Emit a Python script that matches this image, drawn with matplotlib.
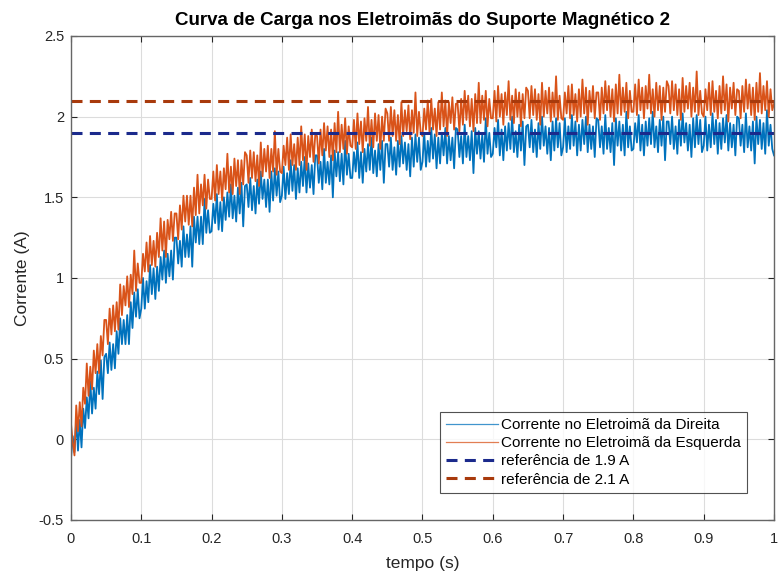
import numpy as np
import matplotlib
matplotlib.use("Agg")
import matplotlib.pyplot as plt

plt.rcParams['font.family'] = ['Liberation Sans', 'DejaVu Sans']

# sample time: 0 .. 1 s every 2.5 ms
dt = 0.0025
t = np.arange(401) * dt

# current in the right-hand electromagnet (A)
i_direita = [
    -0.12, 0.02, -0.08, 0.12, -0.07, 0.12, -0.05, 0.19, 0.07, 0.26, 0.13, 0.36, 0.16, 0.32, 0.19, 0.42, 0.28, 0.49, 0.25, 0.51,
    0.53, 0.41, 0.60, 0.43, 0.59, 0.44, 0.67, 0.53, 0.75, 0.59, 0.74, 0.59, 0.77, 0.59, 0.85, 0.69, 0.91, 0.76, 0.93, 0.75,
    0.81, 1.00, 0.81, 0.98, 0.85, 1.08, 0.90, 1.06, 0.87, 1.07, 0.92, 1.13, 0.99, 1.17, 0.97, 1.15, 1.01, 1.17, 0.99, 1.25,
    1.25, 1.09, 1.23, 1.07, 1.32, 1.13, 1.27, 1.13, 1.32, 1.07, 1.38, 1.22, 1.38, 1.21, 1.38, 1.21, 1.49, 1.28, 1.42, 1.28,
    1.29, 1.46, 1.34, 1.52, 1.30, 1.47, 1.29, 1.50, 1.36, 1.53, 1.38, 1.58, 1.37, 1.51, 1.35, 1.56, 1.40, 1.59, 1.32, 1.57,
    1.58, 1.44, 1.62, 1.42, 1.57, 1.40, 1.61, 1.46, 1.66, 1.49, 1.61, 1.44, 1.61, 1.41, 1.66, 1.48, 1.68, 1.51, 1.66, 1.47,
    1.51, 1.69, 1.49, 1.65, 1.52, 1.73, 1.54, 1.70, 1.49, 1.68, 1.53, 1.72, 1.57, 1.75, 1.53, 1.71, 1.56, 1.70, 1.52, 1.76,
    1.76, 1.59, 1.72, 1.55, 1.80, 1.59, 1.72, 1.58, 1.76, 1.50, 1.79, 1.63, 1.78, 1.60, 1.77, 1.58, 1.85, 1.64, 1.77, 1.62,
    1.62, 1.78, 1.66, 1.84, 1.62, 1.78, 1.59, 1.80, 1.66, 1.83, 1.67, 1.87, 1.65, 1.79, 1.63, 1.83, 1.67, 1.85, 1.59, 1.83,
    1.83, 1.69, 1.87, 1.67, 1.81, 1.64, 1.85, 1.69, 1.88, 1.71, 1.84, 1.67, 1.83, 1.63, 1.87, 1.69, 1.89, 1.72, 1.87, 1.67,
    1.72, 1.90, 1.69, 1.85, 1.72, 1.93, 1.74, 1.89, 1.68, 1.87, 1.71, 1.90, 1.76, 1.93, 1.71, 1.88, 1.73, 1.87, 1.68, 1.93,
    1.92, 1.75, 1.88, 1.71, 1.95, 1.75, 1.88, 1.73, 1.91, 1.65, 1.93, 1.77, 1.91, 1.74, 1.89, 1.72, 1.99, 1.77, 1.90, 1.75,
    1.77, 1.93, 1.81, 1.98, 1.76, 1.92, 1.73, 1.94, 1.79, 1.96, 1.80, 2.00, 1.78, 1.91, 1.75, 1.95, 1.79, 1.97, 1.70, 1.94,
    1.95, 1.81, 1.98, 1.78, 1.92, 1.75, 1.96, 1.80, 2.00, 1.82, 1.94, 1.77, 1.93, 1.73, 1.97, 1.79, 1.99, 1.81, 1.96, 1.76,
    1.81, 1.99, 1.78, 1.94, 1.80, 2.01, 1.82, 1.97, 1.76, 1.95, 1.79, 1.98, 1.83, 2.00, 1.78, 1.95, 1.80, 1.94, 1.75, 1.99,
    1.98, 1.81, 1.94, 1.77, 2.01, 1.80, 1.93, 1.78, 1.96, 1.70, 1.99, 1.82, 1.97, 1.79, 1.95, 1.76, 2.03, 1.81, 1.94, 1.79,
    1.80, 1.96, 1.84, 2.01, 1.79, 1.95, 1.76, 1.97, 1.82, 1.99, 1.83, 2.03, 1.81, 1.94, 1.78, 1.98, 1.82, 2.00, 1.73, 1.97,
    1.97, 1.83, 2.00, 1.80, 1.94, 1.77, 1.98, 1.82, 2.02, 1.84, 1.96, 1.79, 1.95, 1.75, 1.99, 1.81, 2.01, 1.83, 1.98, 1.78,
    1.82, 2.00, 1.79, 1.95, 1.81, 2.02, 1.83, 1.98, 1.77, 1.96, 1.80, 1.99, 1.84, 2.01, 1.79, 1.96, 1.81, 1.95, 1.76, 2.00,
    1.99, 1.82, 1.95, 1.78, 2.02, 1.81, 1.94, 1.79, 1.97, 1.71, 2.00, 1.83, 1.98, 1.80, 1.96, 1.77, 2.04, 1.82, 1.95, 1.80,
    1.76,
]

# current in the left-hand electromagnet (A)
i_esquerda = [
    0.10, -0.02, -0.10, 0.21, 0.05, 0.23, 0.08, 0.32, 0.22, 0.47, 0.27, 0.45, 0.31, 0.55, 0.41, 0.59, 0.41, 0.64, 0.52, 0.74,
    0.74, 0.59, 0.81, 0.65, 0.83, 0.67, 0.85, 0.68, 0.96, 0.77, 0.95, 0.83, 1.01, 0.82, 1.02, 0.90, 1.17, 0.92, 1.09, 0.97,
    0.97, 1.15, 1.04, 1.22, 1.04, 1.26, 1.08, 1.23, 1.07, 1.28, 1.13, 1.37, 1.17, 1.35, 1.13, 1.36, 1.24, 1.41, 1.23, 1.40,
    1.40, 1.24, 1.45, 1.30, 1.51, 1.35, 1.51, 1.33, 1.51, 1.32, 1.56, 1.39, 1.64, 1.40, 1.58, 1.45, 1.64, 1.43, 1.61, 1.49,
    1.49, 1.66, 1.48, 1.70, 1.52, 1.66, 1.48, 1.68, 1.55, 1.77, 1.53, 1.69, 1.52, 1.74, 1.57, 1.73, 1.52, 1.73, 1.58, 1.78,
    1.76, 1.59, 1.79, 1.62, 1.78, 1.60, 1.76, 1.57, 1.84, 1.63, 1.80, 1.66, 1.82, 1.62, 1.80, 1.66, 1.91, 1.64, 1.80, 1.66,
    1.65, 1.82, 1.70, 1.87, 1.67, 1.89, 1.70, 1.83, 1.67, 1.87, 1.70, 1.94, 1.73, 1.89, 1.67, 1.88, 1.75, 1.92, 1.72, 1.89,
    1.88, 1.71, 1.92, 1.76, 1.96, 1.79, 1.94, 1.75, 1.92, 1.73, 1.96, 1.78, 2.03, 1.78, 1.95, 1.80, 1.99, 1.77, 1.94, 1.82,
    1.81, 1.98, 1.80, 2.02, 1.83, 1.97, 1.78, 1.99, 1.85, 2.06, 1.82, 1.98, 1.81, 2.02, 1.85, 2.01, 1.80, 2.00, 1.85, 2.05,
    2.02, 1.85, 2.06, 1.88, 2.04, 1.85, 2.01, 1.83, 2.09, 1.88, 2.04, 1.91, 2.07, 1.86, 2.04, 1.90, 2.15, 1.88, 2.03, 1.90,
    1.88, 2.05, 1.92, 2.10, 1.90, 2.11, 1.92, 2.05, 1.88, 2.09, 1.92, 2.15, 1.94, 2.10, 1.88, 2.09, 1.96, 2.12, 1.92, 2.08,
    2.08, 1.91, 2.11, 1.95, 2.16, 1.98, 2.13, 1.94, 2.11, 1.91, 2.14, 1.96, 2.21, 1.96, 2.13, 1.98, 2.16, 1.94, 2.11, 1.99,
    1.99, 2.16, 1.97, 2.19, 2.00, 2.14, 1.95, 2.15, 2.01, 2.22, 1.98, 2.13, 1.96, 2.17, 2.00, 2.15, 1.94, 2.14, 1.99, 2.18,
    2.16, 1.99, 2.19, 2.01, 2.17, 1.98, 2.14, 1.95, 2.21, 2.00, 2.16, 2.02, 2.18, 1.97, 2.15, 2.00, 2.25, 1.98, 2.13, 1.99,
    1.98, 2.15, 2.02, 2.19, 1.99, 2.20, 2.01, 2.14, 1.97, 2.17, 2.00, 2.23, 2.02, 2.18, 1.95, 2.16, 2.03, 2.19, 1.99, 2.15,
    2.15, 1.98, 2.18, 2.02, 2.22, 2.04, 2.19, 2.00, 2.17, 1.97, 2.20, 2.02, 2.26, 2.01, 2.18, 2.03, 2.21, 1.99, 2.16, 2.03,
    2.03, 2.20, 2.01, 2.23, 2.04, 2.18, 1.99, 2.19, 2.05, 2.26, 2.02, 2.17, 2.00, 2.21, 2.04, 2.19, 1.98, 2.18, 2.03, 2.22,
    2.19, 2.02, 2.22, 2.04, 2.20, 2.01, 2.17, 1.98, 2.24, 2.03, 2.19, 2.05, 2.21, 2.00, 2.18, 2.03, 2.28, 2.01, 2.16, 2.02,
    2.00, 2.17, 2.04, 2.21, 2.01, 2.22, 2.03, 2.16, 1.99, 2.19, 2.02, 2.25, 2.04, 2.20, 1.97, 2.18, 2.05, 2.21, 2.01, 2.17,
    2.16, 1.99, 2.19, 2.03, 2.23, 2.05, 2.20, 2.01, 2.18, 1.98, 2.21, 2.03, 2.27, 2.02, 2.19, 2.04, 2.22, 2.00, 2.17, 2.04,
    2.08,
]

ref_direita = 1.9
ref_esquerda = 2.1

labels = [
    "Corrente no Eletroimã da Direita",
    "Corrente no Eletroimã da Esquerda",
    "referência de 1.9 A",
    "referência de 2.1 A",
]

axis_color = "#262626"

fig = plt.figure(figsize=(7.79, 5.75), dpi=100)
ax = fig.add_axes([0.0911, 0.0957, 0.9025, 0.8417])

ax.plot(t, i_direita, color="#0072BD", lw=1.3, label=labels[0])
ax.plot(t, i_esquerda, color="#D95319", lw=1.3, label=labels[1])
ax.plot([0, 1], [ref_direita, ref_direita], color="#1B2A8C", lw=2.2,
        linestyle=(0, (3.6, 2.4)), label=labels[2])
ax.plot([0, 1], [ref_esquerda, ref_esquerda], color="#A83A0C", lw=2.2,
        linestyle=(0, (3.6, 2.4)), label=labels[3])

ax.set_xlim(0, 1)
ax.set_ylim(-0.5, 2.5)
ax.set_xticks(np.arange(0, 1.01, 0.1))
ax.set_xticklabels(["0", "0.1", "0.2", "0.3", "0.4", "0.5", "0.6", "0.7", "0.8", "0.9", "1"])
ax.set_yticks(np.arange(-0.5, 2.51, 0.5))
ax.set_yticklabels(["-0.5", "0", "0.5", "1", "1.5", "2", "2.5"])

ax.grid(True, color="#dcdcdc", lw=0.8)
ax.set_axisbelow(True)
ax.tick_params(direction="in", length=4, width=0.8, colors=axis_color,
               labelsize=10.5, top=True, right=True)
ax.tick_params(axis="x", pad=9)
ax.tick_params(axis="y", pad=5)
for s in ax.spines.values():
    s.set_color("#666666")
    s.set_linewidth(1.0)

ax.set_xlabel("tempo (s)", fontsize=12.5, color=axis_color, labelpad=7)
ax.set_ylabel("Corrente (A)", fontsize=12.5, color=axis_color, labelpad=6)
ax.set_title("Curva de Carga nos Eletroimãs do Suporte Magnético 2",
             fontsize=13.5, fontweight="bold", color="black", pad=8)

leg = ax.legend(loc="lower right", bbox_to_anchor=(0.962, 0.056), fontsize=11,
                frameon=True, fancybox=False, edgecolor=axis_color,
                handlelength=3.4, handletextpad=0.2, borderpad=0.4,
                labelspacing=0.28, borderaxespad=0)
leg.get_frame().set_linewidth(0.8)
for line in leg.get_lines()[:2]:
    line.set_linewidth(0.9)
    line.set_alpha(0.75)

fig.savefig("out.png", dpi=100)
